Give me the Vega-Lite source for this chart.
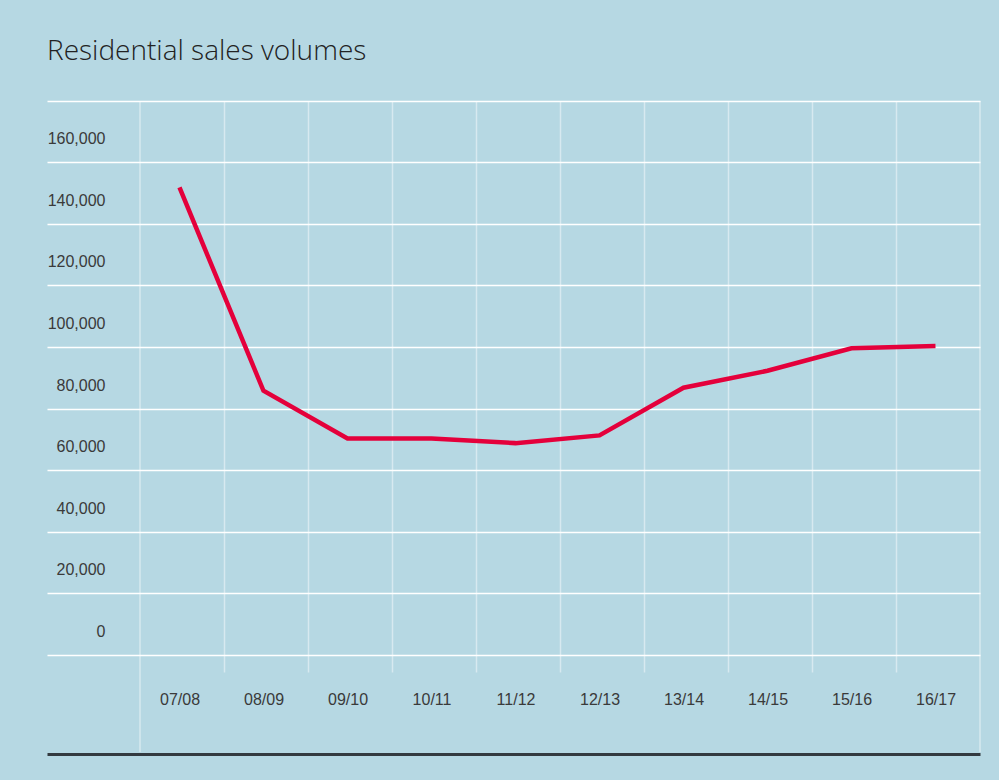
{
  "$schema": "https://vega.github.io/schema/vega-lite/v6.json",
  "width": 933,
  "height": 651,
  "autosize": {"type": "none"},
  "padding": {"left": 47, "top": 101, "right": 19, "bottom": 28},
  "background": "#b6d8e3",
  "title": {
    "text": "Residential sales volumes",
    "anchor": "start",
    "frame": "group",
    "fontSize": 28,
    "font": "Open Sans",
    "fontWeight": 300,
    "color": "#222222",
    "offset": 34
  },
  "config": {"view": {"stroke": null}, "font": "Liberation Sans"},
  "data": {
    "values": [
      {"period": "07/08", "volume": 144000},
      {"period": "08/09", "volume": 78000},
      {"period": "09/10", "volume": 62500},
      {"period": "10/11", "volume": 62500},
      {"period": "11/12", "volume": 61000},
      {"period": "12/13", "volume": 63500},
      {"period": "13/14", "volume": 79000},
      {"period": "14/15", "volume": 84500},
      {"period": "15/16", "volume": 91800},
      {"period": "16/17", "volume": 92500}
    ]
  },
  "layer": [
    {
      "mark": {"type": "line", "color": "#e4003b", "strokeWidth": 4.5, "strokeCap": "butt", "strokeJoin": "miter"},
      "encoding": {
        "x": {
          "field": "period",
          "type": "ordinal",
          "bandPosition": 0.47,
          "scale": {"type": "band", "paddingInner": 0, "paddingOuter": 0.5536, "align": 1},
          "axis": {
            "orient": "bottom",
            "offset": -80,
            "domain": false,
            "ticks": false,
            "grid": false,
            "labelAngle": 0,
            "labelOffset": -2,
            "labelPadding": 19,
            "labelBaseline": "top",
            "labelFontSize": 16,
            "labelColor": "#3a3a3a",
            "labelFont": "Liberation Sans",
            "title": null
          }
        },
        "y": {
          "field": "volume",
          "type": "quantitative",
          "scale": {"domain": [-39286, 172078], "nice": false, "zero": false},
          "axis": {
            "values": [-20000, 0, 20000, 40000, 60000, 80000, 100000, 120000, 140000, 160000],
            "tickOffset": -37.5,
            "labelOffset": 38,
            "grid": true,
            "gridColor": "#ffffff",
            "gridWidth": 1.6,
            "gridOpacity": 1,
            "ticks": false,
            "domain": false,
            "labelPadding": -58,
            "labelAlign": "right",
            "labelBaseline": "middle",
            "labelExpr": "datum.value < 0 ? '' : format(datum.value, ',')",
            "labelFontSize": 16,
            "labelColor": "#3a3a3a",
            "labelFont": "Liberation Sans",
            "title": null
          }
        }
      }
    },
    {
      "data": {"values": [{"period": "07/08"}]},
      "mark": {"type": "rule", "color": "#ffffff", "opacity": 0.45, "strokeWidth": 1.5},
      "encoding": {
        "x": {
          "field": "period",
          "type": "ordinal",
          "bandPosition": 0,
          "scale": {"type": "band", "paddingInner": 0, "paddingOuter": 0.5536, "align": 1},
          "axis": {
            "orient": "bottom",
            "offset": -80,
            "bandPosition": 0,
            "values": ["08/09", "09/10", "10/11", "11/12", "12/13", "13/14", "14/15", "15/16", "16/17"],
            "labels": false,
            "domain": false,
            "grid": false,
            "ticks": true,
            "tickSize": -571,
            "tickColor": "#ffffff",
            "tickOpacity": 0.45,
            "tickWidth": 1.5,
            "title": null
          }
        }
      }
    },
    {
      "data": {"values": [{"period": "16/17"}]},
      "mark": {"type": "rule", "color": "#ffffff", "opacity": 0.45, "strokeWidth": 1.5},
      "encoding": {
        "x": {
          "field": "period",
          "type": "ordinal",
          "bandPosition": 1,
          "scale": {"type": "band", "paddingInner": 0, "paddingOuter": 0.5536, "align": 1},
          "axis": {
            "orient": "bottom",
            "offset": 2,
            "labels": false,
            "domain": true,
            "domainColor": "#333a40",
            "domainWidth": 3,
            "grid": false,
            "ticks": false,
            "title": null
          }
        }
      }
    }
  ],
  "resolve": {"axis": {"x": "independent"}}
}
